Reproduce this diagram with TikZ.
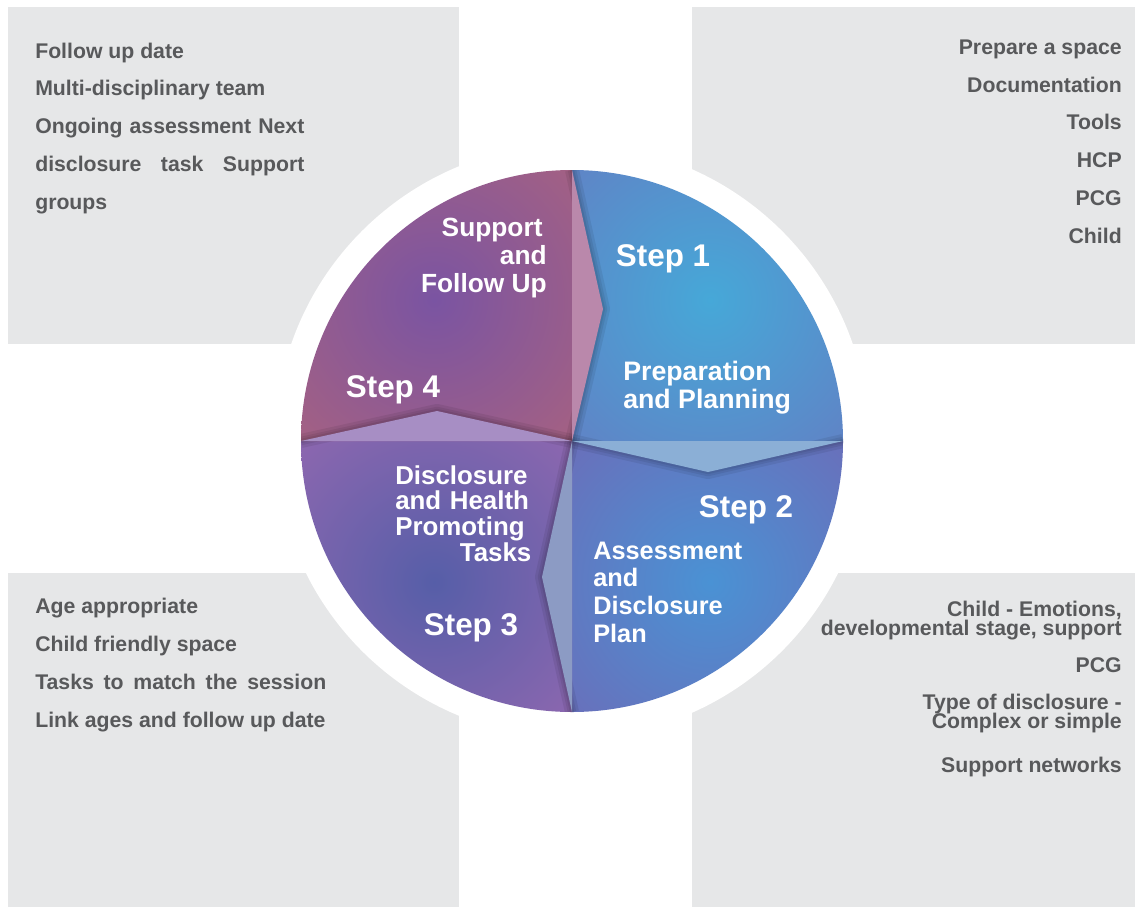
\documentclass[tikz,border=0pt]{standalone}
\usepackage{fontspec}
\setmainfont{Liberation Sans}
\lineskiplimit=-20pt

\definecolor{panelgray}{RGB}{230,231,232}
\definecolor{notegray}{RGB}{88,89,91}
\definecolor{oneinner}{RGB}{70,168,216}
\definecolor{oneouter}{RGB}{98,128,196}
\definecolor{twoinner}{RGB}{74,146,212}
\definecolor{twoouter}{RGB}{108,108,184}
\definecolor{threeinner}{RGB}{86,94,168}
\definecolor{threeouter}{RGB}{146,104,176}
\definecolor{fourinner}{RGB}{122,84,162}
\definecolor{fourouter}{RGB}{168,98,128}
\definecolor{arrowpink}{RGB}{186,136,171}
\definecolor{arrowblue}{RGB}{139,175,214}
\definecolor{arrowslate}{RGB}{140,155,196}
\definecolor{arrowlilac}{RGB}{167,142,196}

\tikzset{%
	panel/.style     = {fill=panelgray},
	note/.style      = {text=notegray, inner sep=0pt,
		font=\bfseries\fontsize{15.1}{26.8}\selectfont}, % grey lists
	steptitle/.style = {text=white, inner sep=0pt,
		font=\bfseries\fontsize{22.3}{24}\selectfont},
	phase/.style     = {text=white, inner sep=0pt,
		font=\bfseries\fontsize{18.7}{19.8}\selectfont}, % wheel texts
	halo/.style      = {black, opacity=0.07, line join=round}
}

\begin{document}
\begin{tikzpicture}[x=0.025cm, y=-0.025cm]
			\useasboundingbox (0,0) rectangle (1135,907);
			
			% panels
			\fill[panel] (8,7) rectangle (459,344);
			\fill[panel] (692,7) rectangle (1135,344);
			\fill[panel] (8,573) rectangle (459,907);
			\fill[panel] (692,573) rectangle (1135,907);
			
			% wheel
			\coordinate (hub) at (572,441);
			\fill[white] (hub) circle (297);
			\foreach \a/\ci/\co/\gx/\gy in {-90/oneinner/oneouter/710/300,
				0/twoinner/twoouter/710/582, 90/threeinner/threeouter/434/582,
				180/fourinner/fourouter/434/300}{
				\begin{scope}
					\clip (hub) -- ++(\a:271) arc[start angle=\a, end angle=\a+90, radius=271] -- cycle;
					\shade[inner color=\ci, outer color=\co] (\gx,\gy) circle (215);
				\end{scope}
			}
			
			% arrows between the steps
			\begin{scope}
				\clip (hub) circle (271);
				\foreach \rx/\ry/\px/\py in {572/170/603/309, 843/441/708/472,
					572/712/542/577, 301/441/437/411}{
					\foreach \w in {10,6,3}
					\draw[halo, line width=\w pt] (hub) -- (\px,\py) -- (\rx,\ry);
				}
				\foreach \rx/\ry/\px/\py/\c in {572/170/603/309/arrowpink,
					843/441/708/472/arrowblue, 572/712/542/577/arrowslate,
					301/441/437/411/arrowlilac}
				\fill[\c] (hub) -- (\px,\py) -- (\rx,\ry) -- cycle;
			\end{scope}
			
			\node[phase, align=right, anchor=base east] (followup) at (547,292) {Support\hspace*{3pt}\\and\\Follow Up};
			\node[steptitle, anchor=base] (step1) at (663,266) {Step 1};
			\node[phase, align=left, anchor=base west,
				font=\bfseries\fontsize{19}{19.7}\selectfont] (prep) at (623,408) {Preparation\\and Planning};
			\node[steptitle, anchor=base] (step4) at (393,397) {Step 4};
			\node[steptitle, anchor=base] (step2) at (746,517) {Step 2};
			\node[phase, align=left, anchor=base west, text width=3.4cm,
				font=\bfseries\fontsize{18.4}{18.35}\selectfont] (tasks) at (395,484)
				{Disclosure\\and Health\\Promoting\\\hspace*{\fill}Tasks};
			\node[phase, align=left, anchor=base west,
				font=\bfseries\fontsize{18}{19.6}\selectfont] (plan) at (593,642) {Assessment\\and\\Disclosure\\Plan};
			\node[steptitle, anchor=base] (step3) at (471,635) {Step 3};
			
			% lists
			\node[note, align=left, anchor=base west] (supportlist) at (35,209)
				{Follow up date\\Multi-disciplinary team\\\makebox[6.725cm][s]{Ongoing assessment Next}\\\makebox[6.725cm][s]{disclosure task Support}\\groups};
			\node[note, align=right, anchor=base east] (preplist) at (1122,243)
				{Prepare a space\\Documentation\\Tools\\HCP\\PCG\\Child};
			\node[note, align=left, anchor=base west] (tasklist) at (35,727)
				{Age appropriate\\Child friendly space\\\makebox[7.275cm][s]{Tasks to match the session}\\Link ages and follow up date};
			\node[note, align=right, anchor=base east,
				font=\bfseries\fontsize{15.1}{13.3}\selectfont] (planlist) at (1122,772)
				{Child - Emotions,\\developmental stage, support\\[13.2pt]PCG\\[13pt]Type of disclosure -\\Complex or simple\\[17.8pt]Support networks};
		\end{tikzpicture}
\end{document}
